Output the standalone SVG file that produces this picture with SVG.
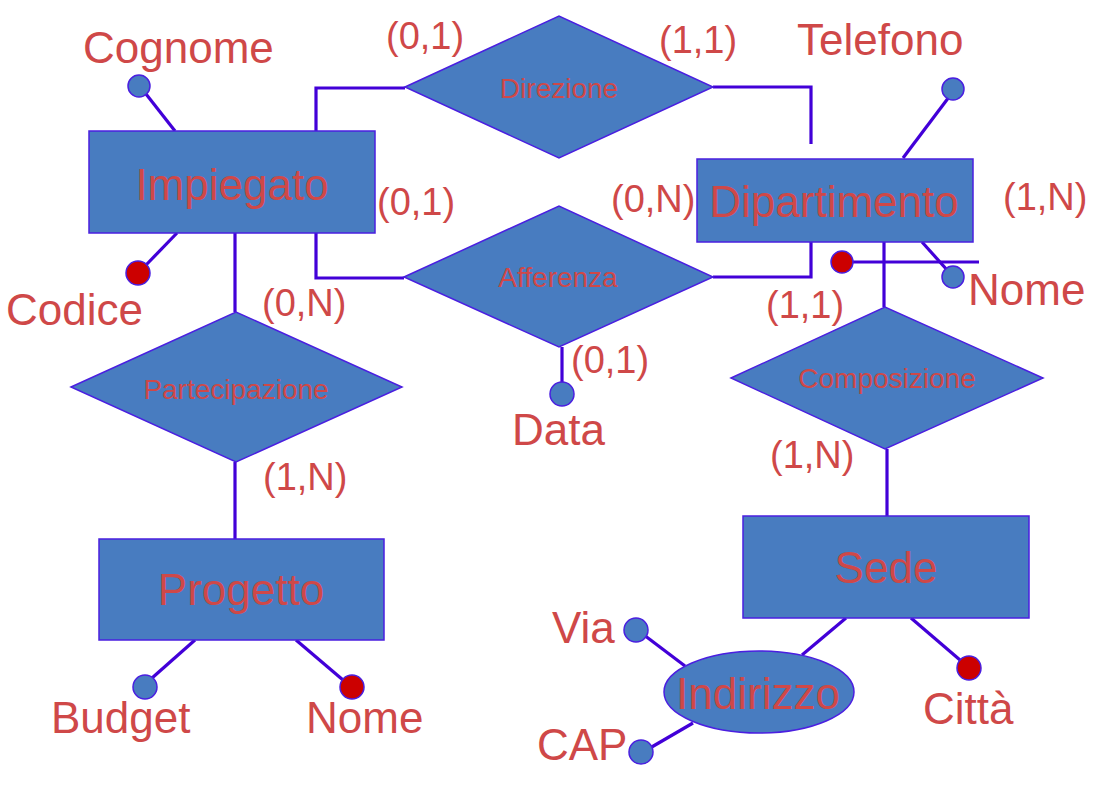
<svg xmlns="http://www.w3.org/2000/svg" width="1103" height="787" viewBox="0 0 1103 787">
<style>
.shape{fill:#487cc0;stroke:#4a1fe0;stroke-width:1.5}
.ln{fill:none;stroke:#4200d8;stroke-width:3.2}
.att{fill:#487cc0;stroke:#4a1fe0;stroke-width:1.5}
.key{fill:#cc0000;stroke:#4a1fe0;stroke-width:1.5}
text{font-family:"Liberation Sans",Arial,sans-serif;fill:#cf4848}
.big{font-size:44px}
.card{font-size:38px}
.rel{font-size:28px;text-anchor:middle}
.ent{font-size:44px;text-anchor:middle}
</style>
<rect width="1103" height="787" fill="#ffffff"/>
<g id="connectors">
<polyline class="ln" points="316,131 316,88 405,88"/>
<polyline class="ln" points="713,87 811,87 811,144"/>
<polyline class="ln" points="316,233 316,278 404,278"/>
<polyline class="ln" points="713,277 811,277 811,242"/>
<line class="ln" x1="235" y1="233" x2="235" y2="312"/>
<line class="ln" x1="235" y1="462" x2="235" y2="539"/>
<line class="ln" x1="884" y1="242" x2="884" y2="307"/>
<line class="ln" x1="887" y1="449" x2="887" y2="516"/>
<line class="ln" x1="562" y1="347" x2="562" y2="383"/>
<line class="ln" x1="146" y1="94" x2="175" y2="131"/>
<line class="ln" x1="177" y1="233" x2="146" y2="265"/>
<line class="ln" x1="952" y1="93" x2="903" y2="158"/>
<line class="ln" x1="922" y1="242" x2="948" y2="271"/>
<line class="ln" x1="842" y1="262" x2="979" y2="262"/>
<line class="ln" x1="195" y1="640" x2="152" y2="678"/>
<line class="ln" x1="296" y1="640" x2="343" y2="680"/>
<line class="ln" x1="846" y1="618" x2="802" y2="655"/>
<line class="ln" x1="911" y1="618" x2="960" y2="660"/>
<line class="ln" x1="644" y1="635" x2="685" y2="666"/>
<line class="ln" x1="650" y1="748" x2="693" y2="723"/>
</g>
<g id="impiegato">
<rect class="shape" x="89" y="131" width="286" height="102"/>
<text class="ent" x="232" y="200">Impiegato</text>
</g>
<g id="dipartimento">
<rect class="shape" x="697" y="159" width="276" height="83"/>
<text class="ent" x="834" y="217">Dipartimento</text>
</g>
<g id="progetto">
<rect class="shape" x="99" y="539" width="285" height="101"/>
<text class="ent" x="241" y="605">Progetto</text>
</g>
<g id="sede">
<rect class="shape" x="743" y="516" width="286" height="102"/>
<text class="ent" x="886" y="583">Sede</text>
</g>
<g id="direzione">
<polygon class="shape" points="405,87 559,16 713,87 559,158"/>
<text class="rel" x="559" y="98">Direzione</text>
</g>
<g id="afferenza">
<polygon class="shape" points="404,277 559,206 713,277 559,347"/>
<text class="rel" x="558" y="287">Afferenza</text>
</g>
<g id="partecipazione">
<polygon class="shape" points="71,387 236,312 402,387 236,462"/>
<text class="rel" x="236" y="399">Partecipazione</text>
</g>
<g id="composizione">
<polygon class="shape" points="731,378 885,307 1043,378 885,449"/>
<text class="rel" x="887" y="388">Composizione</text>
</g>
<g id="indirizzo">
<ellipse class="shape" cx="759" cy="692" rx="95" ry="41"/>
<text class="ent" x="758" y="709">Indirizzo</text>
</g>
<g id="attr-cognome">
<circle class="att" cx="139" cy="86" r="11"/>
<text class="big" x="83" y="63">Cognome</text>
</g>
<g id="attr-codice">
<circle class="key" cx="138" cy="273" r="12"/>
<text class="big" x="6" y="325">Codice</text>
</g>
<g id="attr-telefono">
<circle class="att" cx="953" cy="89" r="11"/>
<text class="big" x="797" y="55">Telefono</text>
</g>
<g id="attr-nome-dip">
<circle class="att" cx="953" cy="277" r="11"/>
<text class="big" x="968" y="305">Nome</text>
</g>
<g id="key-dip">
<circle class="key" cx="842" cy="262" r="11"/>
</g>
<g id="attr-data">
<circle class="att" cx="562" cy="394" r="12"/>
<text class="big" x="512" y="445">Data</text>
</g>
<g id="attr-budget">
<circle class="att" cx="145" cy="687" r="12"/>
<text class="big" x="51" y="733">Budget</text>
</g>
<g id="attr-nome-prog">
<circle class="key" cx="352" cy="687" r="12"/>
<text class="big" x="306" y="733">Nome</text>
</g>
<g id="attr-citta">
<circle class="key" cx="969" cy="668" r="12"/>
<text class="big" x="923" y="724">Città</text>
</g>
<g id="attr-via">
<circle class="att" cx="636" cy="630" r="12"/>
<text class="big" x="552" y="643">Via</text>
</g>
<g id="attr-cap">
<circle class="att" cx="641" cy="752" r="12"/>
<text class="big" x="537" y="760">CAP</text>
</g>
<g id="cardinalities">
<text class="card" x="386" y="49">(0,1)</text>
<text class="card" x="659" y="53">(1,1)</text>
<text class="card" x="377" y="215">(0,1)</text>
<text class="card" x="611" y="212">(0,N)</text>
<text class="card" x="1003" y="210">(1,N)</text>
<text class="card" x="262" y="316">(0,N)</text>
<text class="card" x="263" y="490">(1,N)</text>
<text class="card" x="571" y="373">(0,1)</text>
<text class="card" x="766" y="318">(1,1)</text>
<text class="card" x="770" y="468">(1,N)</text>
</g>
</svg>
